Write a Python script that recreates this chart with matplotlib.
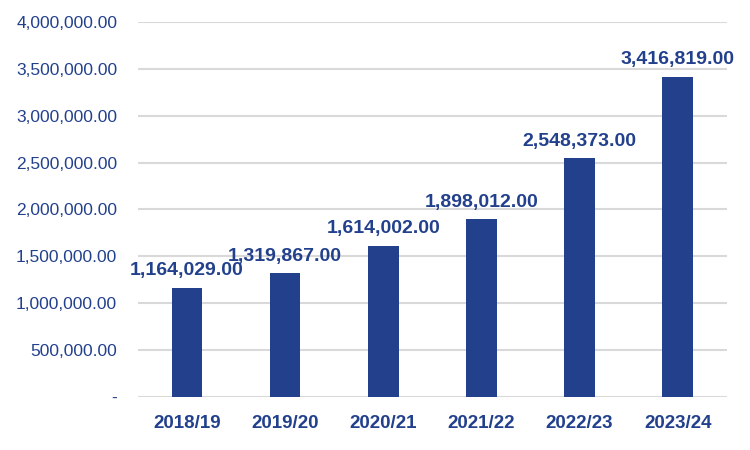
import matplotlib
matplotlib.use("Agg")
import matplotlib.pyplot as plt
from matplotlib.ticker import FuncFormatter, MultipleLocator

categories = ["2018/19", "2019/20", "2020/21", "2021/22", "2022/23", "2023/24"]
values = [1164029.00, 1319867.00, 1614002.00, 1898012.00, 2548373.00, 3416819.00]

color = "#22408C"
plt.rcParams['font.family'] = ['Liberation Sans', 'DejaVu Sans']

fig = plt.figure(figsize=(7.5, 4.5), dpi=100)
ax = fig.add_axes([0.184, 0.118, 0.785, 0.833])

x = list(range(len(categories)))
bars = ax.bar(x, values, width=0.31, color=color, zorder=3)

ax.set_xlim(-0.5, len(categories) - 0.5)
ax.set_ylim(0, 4000000)
ax.yaxis.set_major_locator(MultipleLocator(500000))

def fmt(v, pos):
    if abs(v) < 1e-6:
        return "-"
    return f"{v:,.2f}"

ax.yaxis.set_major_formatter(FuncFormatter(fmt))
ax.grid(axis='y', color='#D9D9D9', linewidth=1.5, zorder=0)
for s in ax.spines.values():
    s.set_visible(False)

ax.set_xticks(x)
ax.set_xticklabels(categories, fontsize=13.5, fontweight='bold', color=color)
ax.tick_params(axis='x', length=0, pad=13)
ax.tick_params(axis='y', length=0, pad=15, labelsize=12.5, labelcolor=color)

for xi, v in zip(x, values):
    ax.annotate(f"{v:,.2f}", (xi, v), xytext=(0, 6), textcoords='offset points',
                ha='center', va='bottom', fontsize=14, fontweight='bold', color=color)

fig.savefig("out.png", dpi=100)
